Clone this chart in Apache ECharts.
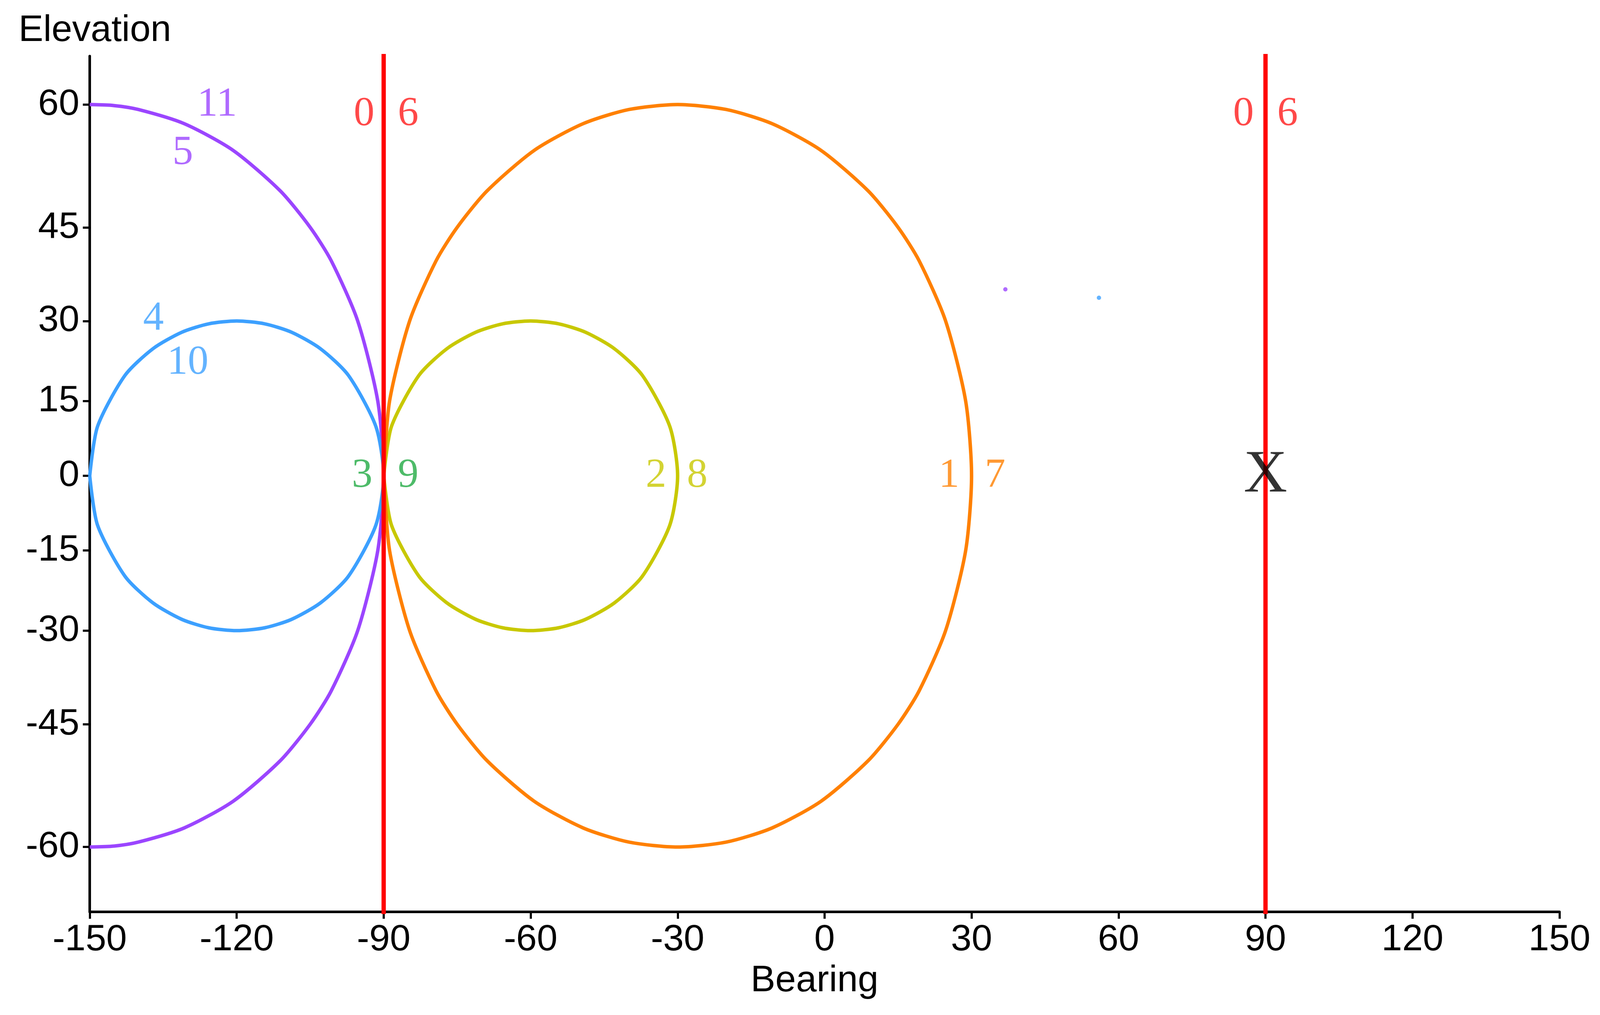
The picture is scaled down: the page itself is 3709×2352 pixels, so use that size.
<!DOCTYPE html>
<html><head><meta charset="utf-8">
<script src="https://cdn.jsdelivr.net/npm/echarts@6/dist/echarts.min.js"></script>
<style>html,body{margin:0;padding:0;background:#fff}#c{width:3709px;height:2352px}</style>
</head><body><div id="c"></div>
<script>
// [bearing, elevation] points
const blueCircle=[[-150,0],[-148.4,10],[-142.8,20],[-137.1,25],[-131.2,28],[-125.7,29.5],[-120,30],[-114.3,29.5],[-108.8,28],[-102.9,25],[-97.2,20],[-91.6,10],[-90,0],[-91.6,-10],[-97.2,-20],[-102.9,-25],[-108.8,-28],[-114.3,-29.5],[-120,-30],[-125.7,-29.5],[-131.2,-28],[-137.1,-25],[-142.8,-20],[-148.4,-10],[-150,0]];
const yellowCircle=[[-90,0],[-88.4,10],[-82.8,20],[-77.1,25],[-71.2,28],[-65.7,29.5],[-60,30],[-54.3,29.5],[-48.8,28],[-42.9,25],[-37.2,20],[-31.6,10],[-30,0],[-31.6,-10],[-37.2,-20],[-42.9,-25],[-48.8,-28],[-54.3,-29.5],[-60,-30],[-65.7,-29.5],[-71.2,-28],[-77.1,-25],[-82.8,-20],[-88.4,-10],[-90,0]];
const orangeCircle=[[-90,0],[-88.8,15],[-84.7,30],[-79.3,40],[-75,45],[-68.9,50],[-59.3,55],[-49.3,58],[-39.9,59.5],[-30,60],[-20.1,59.5],[-10.7,58],[-0.7,55],[8.9,50],[15,45],[19.3,40],[24.7,30],[28.8,15],[30,0],[28.8,-15],[24.7,-30],[19.3,-40],[15,-45],[8.9,-50],[-0.7,-55],[-10.7,-58],[-20.1,-59.5],[-30,-60],[-39.9,-59.5],[-49.3,-58],[-59.3,-55],[-68.9,-50],[-75,-45],[-79.3,-40],[-84.7,-30],[-88.8,-15],[-90,0]];
const purpleArc=[[-150,60],[-145,59.9],[-140.1,59.5],[-130.7,58],[-120.7,55],[-111.1,50],[-105,45],[-100.7,40],[-95.3,30],[-91.2,15],[-90,0],[-91.2,-15],[-95.3,-30],[-100.7,-40],[-105,-45],[-111.1,-50],[-120.7,-55],[-130.7,-58],[-140.1,-59.5],[-145,-59.9],[-150,-60]];
const redLineA=[[-90,75.7],[-90,-76.6]];
const redLineB=[[90,76.8],[90,-75.5]];
const labels=[
 ["0",-94,59,"#ff1a1a"],["6",-85,59,"#ff1a1a"],["0",85.5,59,"#ff1a1a"],["6",94.5,59,"#ff1a1a"],
 ["11",-124,60,"#9b45ff"],["5",-131,54.7,"#9b45ff"],
 ["4",-137,30.4,"#3ca0ff"],["10",-130,22.4,"#3ca0ff"],
 ["3",-94.4,0,"#22aa44"],["9",-85,0,"#22aa44"],
 ["2",-34.4,0,"#c8c800"],["8",-26,0,"#c8c800"],
 ["1",25.4,0,"#ff8000"],["7",34.8,0,"#ff8000"]];
const dots=[[36.9,35.4,"#9b45ff"],[56,34,"#3ca0ff"]];
const xTicks=[-150,-120,-90,-60,-30,0,30,60,90,120,150];
const yTicks=[-60,-45,-30,-15,0,15,30,45,60];

const merc=e=>Math.log(Math.tan(Math.PI/4+e*Math.PI/360));
const inv=m=>(2*Math.atan(Math.exp(m))-Math.PI/2)*180/Math.PI;
const tr=a=>a.map(p=>[p[0],merc(p[1])]);
const line=(d,c,w)=>({type:'line',data:tr(d),smooth:0.25,symbol:'none',lineStyle:{color:c,width:w},silent:true,z:2});
const chart=echarts.init(document.getElementById('c'));
const axisFont={fontFamily:'Liberation Sans, Arial',fontSize:86,color:'#000'};
chart.setOption({
 animation:false,
 grid:{left:208,right:94,top:130,bottom:239},
 xAxis:{type:'value',min:-150,max:150,interval:30,splitLine:{show:false},
  axisLine:{onZero:false,lineStyle:{color:'#000',width:6}},
  axisTick:{length:16,lineStyle:{color:'#000',width:5}},
  axisLabel:Object.assign({margin:22},axisFont)},
 yAxis:{type:'value',min:-1.547,max:1.489,splitLine:{show:false},
  axisLine:{onZero:false,lineStyle:{color:'#000',width:6}},
  axisTick:{length:16,lineStyle:{color:'#000',width:5},customValues:yTicks.map(merc)},
  axisLabel:Object.assign({margin:24,customValues:yTicks.map(merc),formatter:v=>String(Math.round(inv(v)))},axisFont)},
 graphic:[
  {type:'text',left:43,top:28,style:{text:'Elevation',font:'86px Liberation Sans, Arial',fill:'#000'}},
  {type:'text',left:1740,top:2230,style:{text:'Bearing',font:'86px Liberation Sans, Arial',fill:'#000'}}],
 series:[
  line(purpleArc,'#9b45ff',8),line(blueCircle,'#3ca0ff',8),line(yellowCircle,'#c8c800',8),line(orangeCircle,'#ff8000',8),
  {type:'line',data:tr(redLineA),symbol:'none',lineStyle:{color:'#ff0000',width:10},z:3},
  {type:'line',data:tr(redLineB),symbol:'none',lineStyle:{color:'#ff0000',width:10},z:3},
  {type:'scatter',symbolSize:0,z:5,data:labels.map(l=>({value:[l[1],merc(l[2])],label:{show:true,position:'inside',formatter:l[0],color:l[3],fontFamily:'Liberation Serif, Times New Roman',fontSize:96}}))},
  {type:'scatter',symbolSize:0,z:5,data:[{value:[90,0],label:{show:true,position:'inside',formatter:'X',color:'#000',fontFamily:'Liberation Serif, Times New Roman',fontSize:140}}]},
  {type:'scatter',symbolSize:10,z:5,data:dots.map(d=>({value:[d[0],merc(d[1])],itemStyle:{color:d[2]}}))}
 ]
});
</script></body></html>
